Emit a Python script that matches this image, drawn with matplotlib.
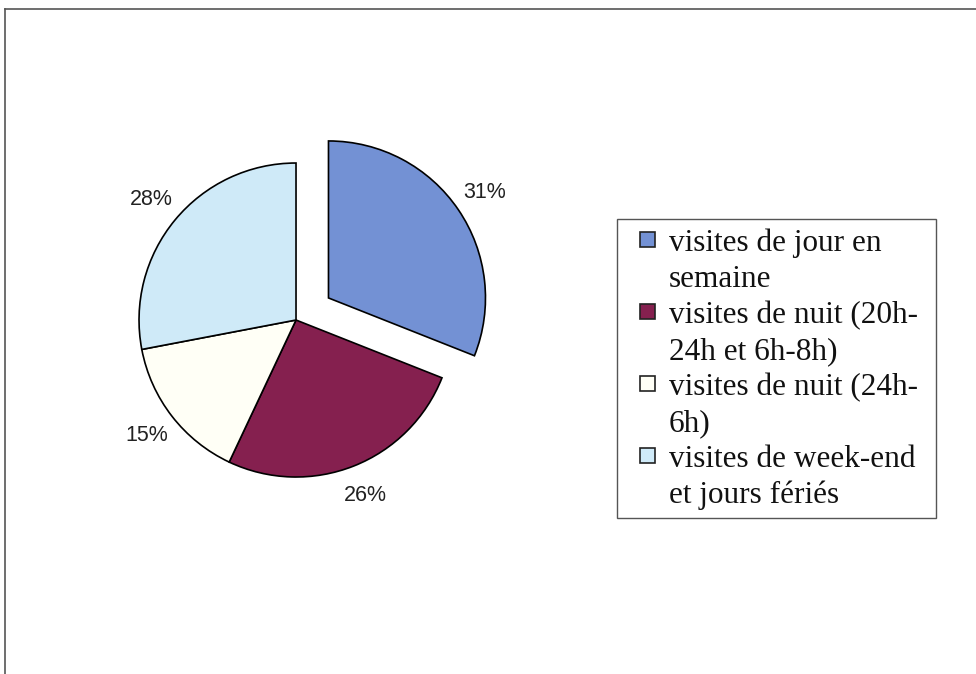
import numpy as np
from matplotlib import pyplot as plt
from matplotlib.lines import Line2D
from matplotlib.patches import Rectangle

# data
categories = ['visites de jour en\nsemaine',
              'visites de nuit (20h-\n24h et 6h-8h)',
              'visites de nuit (24h-\n6h)',
              'visites de week-end\net jours fériés']
shares = [31, 26, 15, 28]
colors = ['#7391d4', '#85204f', '#fffff6', '#cfeaf8']
explode = [0.25, 0, 0, 0]

W, H = 976, 674
fig = plt.figure(figsize=(W / 100, H / 100), dpi=100)
ax = fig.add_axes([0.062, 0.1758, 0.4826, 0.6988])

wedges, texts, autotexts = ax.pie(
    shares, colors=colors, explode=explode, startangle=90, counterclock=False,
    autopct='%1.0f%%', pctdistance=1.2,
    wedgeprops=dict(edgecolor='black', linewidth=1.2),
    textprops=dict(family='Liberation Sans', fontsize=15.5, color='#222222'))
ax.set_xlim(-1.5, 1.5)
ax.set_ylim(-1.5, 1.5)
ax.set_aspect('equal')
ax.axis('off')

# legend box, drawn in pixel coordinates of the figure
def fx(px):
    return px / W

def fy(py):
    return 1 - py / H

fig.add_artist(Rectangle((fx(617), fy(518)), fx(936) - fx(617), fy(219) - fy(518),
                         transform=fig.transFigure, facecolor='white',
                         edgecolor='#555555', lw=1.0))
line_h = 36
base = 251
row = 0
for name, c in zip(categories, colors):
    lines = name.split('\n')
    y0 = base + row * line_h
    fig.add_artist(Rectangle((fx(640), fy(y0 - 4)), fx(655) - fx(640), fy(y0 - 19) - fy(y0 - 4),
                             transform=fig.transFigure, facecolor=c,
                             edgecolor='#222222', lw=1.2))
    for ln in lines:
        fig.text(fx(669), fy(base + row * line_h), ln, family='Liberation Serif',
                 fontsize=22.5, va='baseline', ha='left', color='#111111')
        row += 1

# outer frame of the original chart area
fig.add_artist(Line2D([fx(5), fx(5)], [0, fy(9)], color='#555555', lw=1.2))
fig.add_artist(Line2D([fx(5), 1], [fy(9), fy(9)], color='#555555', lw=1.2))

fig.savefig('out.png', dpi=100)
